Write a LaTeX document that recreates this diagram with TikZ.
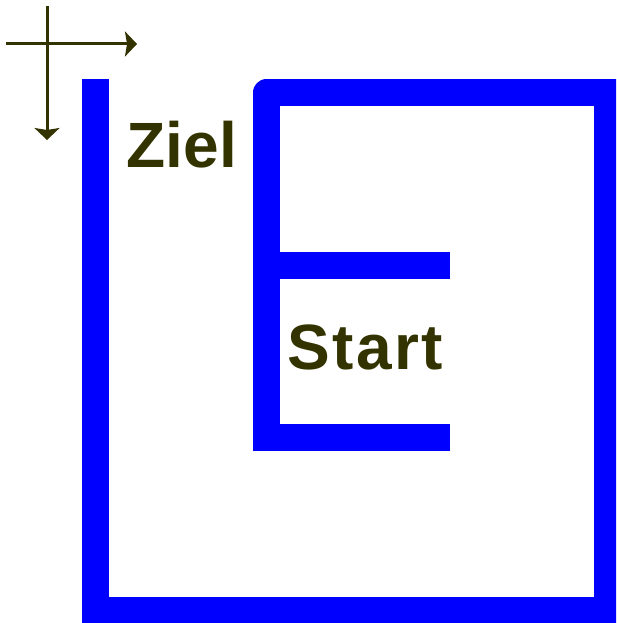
\documentclass[tikz,border=0pt]{standalone}
\usepackage{fontspec}
\setmainfont{Liberation Sans}
\usetikzlibrary{arrows.meta}
\definecolor{wall}{RGB}{0,0,255}
\definecolor{ink}{RGB}{51,51,0}
\newcommand{\gapk}{\kern2.5pt}
\begin{document}
\begin{tikzpicture}[x=1pt,y=-1pt,
  wallline/.style={draw=wall,line width=27pt,line cap=butt,line join=miter},
  axis/.style={draw=ink,line width=3pt,-{Stealth[length=12pt,width=25pt,inset=2pt]}},
  lbl/.style={text=ink,inner sep=0pt,anchor=base west,font=\bfseries\fontsize{64}{64}\selectfont}]
\useasboundingbox (0,0) rectangle (616,623);
\clip (0,0) rectangle (616,623);
% outer wall
\coordinate (o1) at (95.5,79);
\coordinate (o2) at (95.5,610.5);
\coordinate (o3) at (607.5,610.5);
\coordinate (o4) at (607.5,92.5);
\coordinate (c) at (266.5,92.5);
\coordinate (e1) at (266.5,437.5);
\coordinate (e2) at (450,437.5);
\coordinate (m1) at (253,265.5);
\coordinate (m2) at (450,265.5);
\path[wallline] (o1) -- (o2) -- (o3) -- (o4) -- (c);
\path[wallline] (c) -- (e1) -- (e2);
\fill[wall] (c) circle[radius=13.5pt];
\path[wallline] (m1) -- (m2);
% axes
\coordinate (hx0) at (6,44);
\coordinate (hx1) at (137,44);
\coordinate (vy0) at (47,6);
\coordinate (vy1) at (47,140);
\path[axis] (hx0) -- (hx1);
\path[axis] (vy0) -- (vy1);
% labels
\node[lbl] (ziel) at (126,167) {Z\kern0.2pt i\kern0.2pt e\kern0.2pt l};
\node[lbl] (start) at (287,369) {S\gapk t\gapk a\gapk r\gapk t};
\end{tikzpicture}
\end{document}
